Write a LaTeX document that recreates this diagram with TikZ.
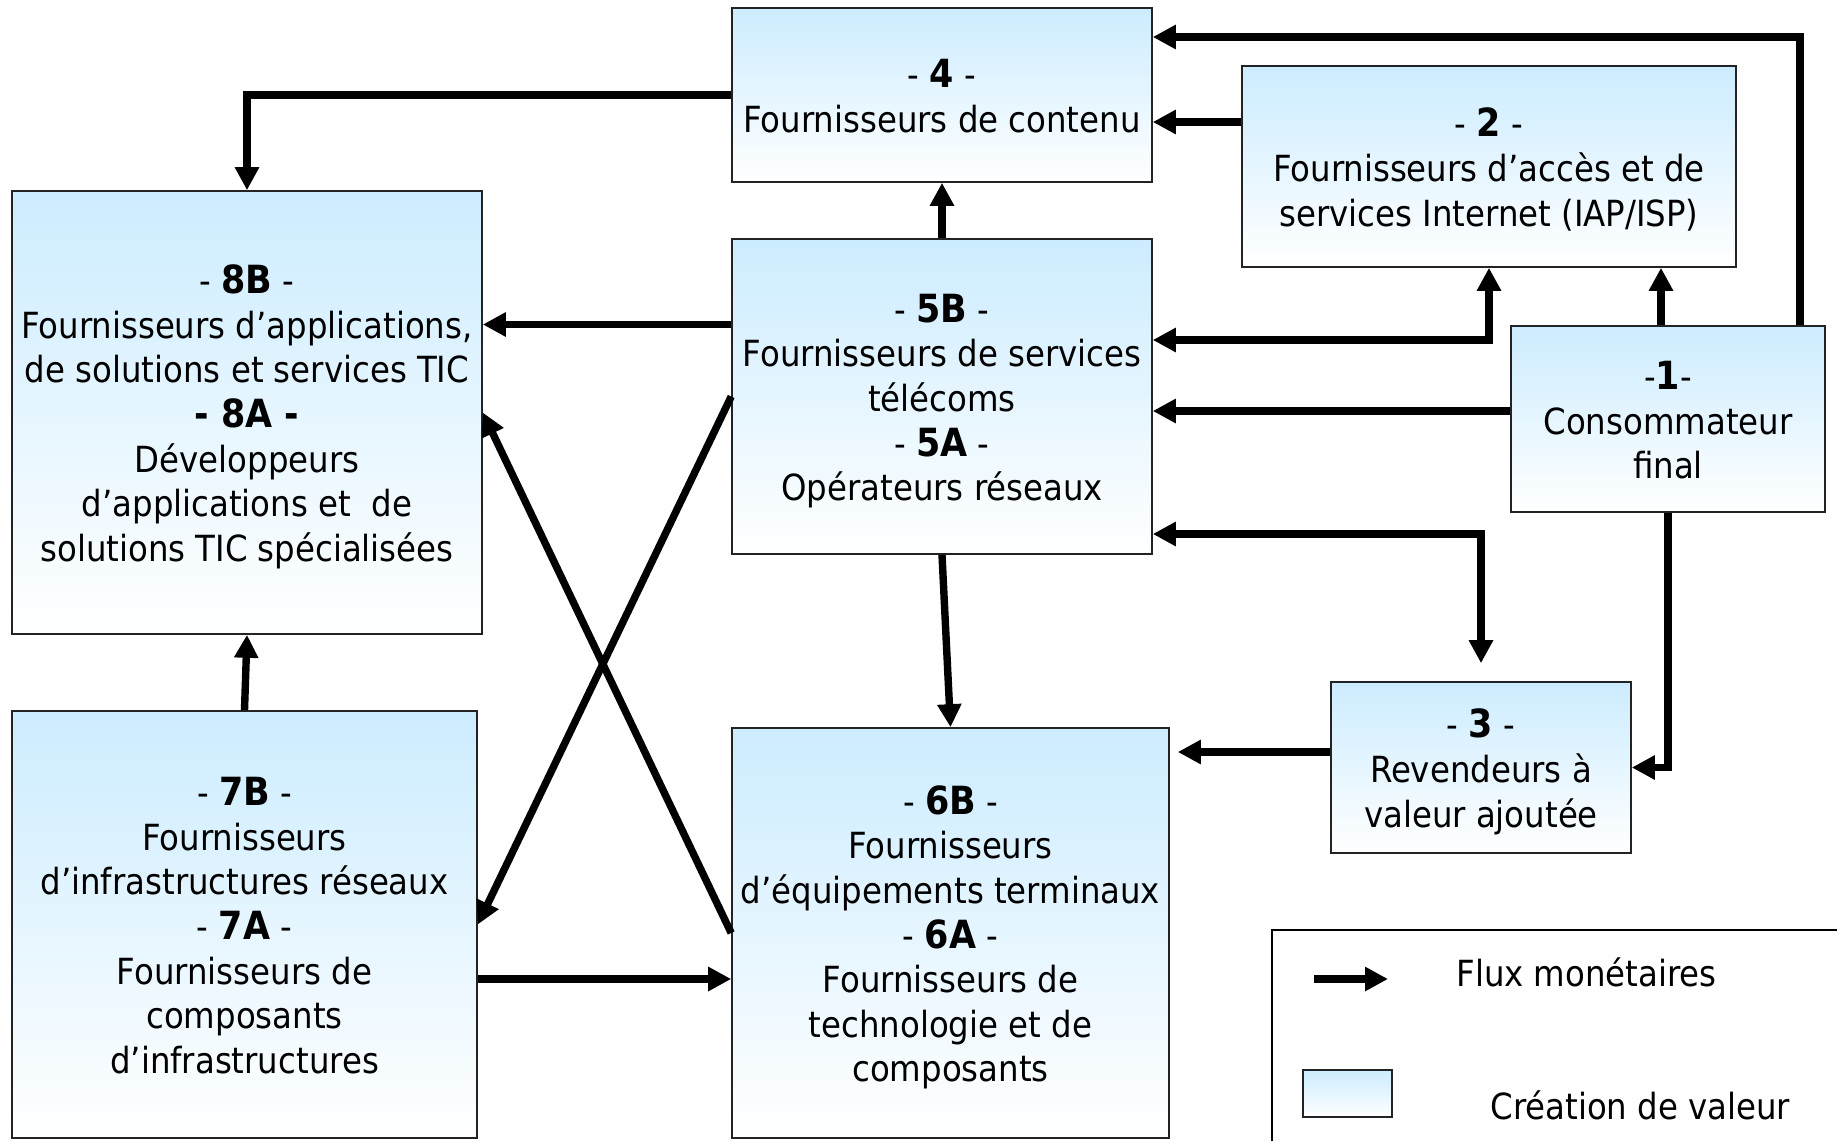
\documentclass[tikz,border=0pt]{standalone}
\usepackage{fontspec}
\setmainfont{DejaVu Sans Condensed}
\usetikzlibrary{arrows.meta}
\definecolor{boxtop}{RGB}{204,236,255}
\definecolor{boxedge}{RGB}{35,35,35}
% bold step number, slightly larger than the running text
\newcommand\nb[1]{{\bfseries\fontsize{19.4pt}{22.3pt}\selectfont #1}}
% struts that fix the height of the first line and the depth of the last one
\newcommand\tstrut{\rule{0pt}{20pt}}
\newcommand\bstrut{\rule[-5pt]{0pt}{0pt}}
\begin{document}
\begin{tikzpicture}[x=0.5pt,y=-0.5pt,
  actor/.style={draw=boxedge,line width=0.8pt,top color=boxtop,bottom color=white,
    align=center,inner sep=0pt,font=\fontsize{18pt}{22.3pt}\selectfont},
  plainbox/.style={draw=boxedge,line width=0.8pt,top color=boxtop,bottom color=white,inner sep=0pt},
  flow/.style={line width=3.7pt,-{Triangle[length=11.5pt,width=11.5pt]}},
  flowboth/.style={line width=3.7pt,{Triangle[length=11.5pt,width=11.5pt]}-{Triangle[length=11.5pt,width=11.5pt]}},
  legendtext/.style={anchor=west,inner sep=0pt,font=\fontsize{18pt}{22.3pt}\selectfont},
]
\useasboundingbox (0,0) rectangle (1837,1141);

% actors of the value chain
\node[actor,minimum width=210pt,minimum height=87pt] (B4) at (942,95)
  {\tstrut- \nb{4} -\\Fournisseurs de contenu\bstrut};
\node[actor,minimum width=247pt,minimum height=100.5pt] (B2) at (1489,166.5)
  {\tstrut- \nb{2} -\\Fournisseurs d’accès et de\\services Internet (IAP/ISP)\bstrut};
\node[actor,minimum width=235pt,minimum height=221.5pt] (B8) at (247,412.5)
  {\tstrut- \nb{8B} -\\Fournisseurs d’applications,\\de solutions et services TIC\\\nb{- 8A -}\\Développeurs\\d’applications et\ \ de\\solutions TIC spécialisées\bstrut};
\node[actor,minimum width=210pt,minimum height=157.5pt] (B5) at (942,396.5)
  {\tstrut- \nb{5B} -\\Fournisseurs de services\\télécoms\\- \nb{5A} -\\Opérateurs réseaux\bstrut};
\node[actor,minimum width=157pt,minimum height=93pt] (B1) at (1668,419)
  {\tstrut-\nb{1}-\\Consommateur\\final\bstrut};
\node[actor,minimum width=150pt,minimum height=85.5pt] (B3) at (1481,767.5)
  {\tstrut- \nb{3} -\\Revendeurs à\\valeur ajoutée\bstrut};
\node[actor,minimum width=232.5pt,minimum height=213.5pt] (B7) at (244.5,924.5)
  {\tstrut- \nb{7B} -\\Fournisseurs\\d’infrastructures réseaux\\- \nb{7A} -\\Fournisseurs de\\composants\\d’infrastructures\bstrut};
\node[actor,minimum width=218.5pt,minimum height=205pt] (B6) at (950.5,933)
  {\tstrut- \nb{6B} -\\Fournisseurs\\d’équipements terminaux\\- \nb{6A} -\\Fournisseurs de\\technologie et de\\composants\bstrut};

% routing levels of the connectors
\coordinate (c2) at (1800,37);
\coordinate (c3) at (0,122);
\coordinate (c5) at (0,324.5);
\coordinate (c6) at (0,340);
\coordinate (c7) at (1661,0);
\coordinate (c8) at (0,411);
\coordinate (c9) at (0,534);
\coordinate (c11) at (0,752);
\coordinate (c14) at (0,979);

% money flows
\draw[flow] (B4.west) -| (B8.north);
\draw[flow] (B1.north -| c2) |- (B4.east |- c2);
\draw[flow] (B2.west |- c3) -- (B4.east |- c3);
\draw[flow] (B5.north) -- (B4.south);
\draw[flow] (B5.west |- c5) -- (B8.east |- c5);
\draw[flowboth] (B5.east |- c6) -| (B2.south);
\draw[flow] (B1.north -| c7) -- (B2.south -| c7);
\draw[flow] (B1.west |- c8) -- (B5.east |- c8);
\draw[flowboth,shorten >=9pt] (B5.east |- c9) -| (B3.north);
\draw[flow] (B1.south) |- (B3.east);
\draw[flow,shorten >=4pt] (B3.west |- c11) -- (B6.east |- c11);
\draw[flow] (B5.south) -- (B6.north);
\draw[flow] (B7.north) -- (B8.south);
\draw[flow] (B7.east |- c14) -- (B6.west |- c14);
\draw[flow] (B5.west) -- (B7.east);
\draw[flow] (B6.west) -- (B8.east);

% legend
\coordinate (lgc) at (1272,930);
\coordinate (lgb) at (1272,1141);
\coordinate (lgr) at (1837,930);
\draw[line width=1pt] (lgb) -- (lgc) -- (lgr);
\coordinate (la1) at (1314,979);
\coordinate (la2) at (1388,979);
\draw[flow] (la1) -- (la2);
\node[legendtext] (lt1) at (1456,972) {Flux monétaires};
\node[plainbox,minimum width=44.5pt,minimum height=23.5pt] (lbox) at (1347.5,1093.5) {};
\node[legendtext] (lt2) at (1490,1105) {Création de valeur};
\end{tikzpicture}
\end{document}
